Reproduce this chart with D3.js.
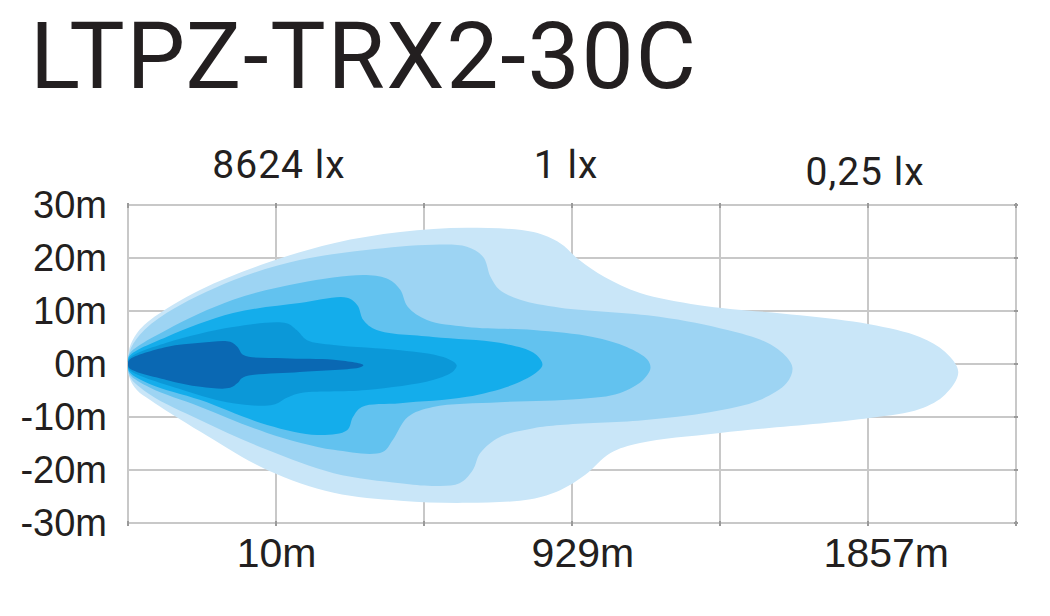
<!DOCTYPE html>
<html>
<head>
<meta charset="utf-8">
<script src="https://cdn.jsdelivr.net/npm/d3@7"></script>
<style>
  html, body { margin: 0; padding: 0; background: #ffffff; }
  svg { display: block; }
</style>
</head>
<body>
<svg id="chart" width="1050" height="616"></svg>
<script>
// ---------- data ----------
const title = "LTPZ-TRX2-30C";
const gridColumns = [0, 1, 2, 3, 4, 5, 6];           // distance grid positions
const lateralTicks = [30, 20, 10, 0, -10, -20, -30];  // metres
const lateralLabels = ["30m", "20m", "10m", "0m", "-10m", "-20m", "-30m"];
const distanceTickPos = [1, 3, 5];
const distanceLabelPos = [1.0, 3.07, 5.12];
const distanceLabels = ["10m", "929m", "1857m"];
const luxLabels = ["8624 lx", "1 lx", "0,25 lx"];
const luxPos = [1.02, 2.96, 4.98];

// isolux contours: [distance grid position, lateral metres]
const contour1 = [[0,0],[0.01,3.0],[0.06,5.8],[0.15,8.3],[0.49,14.0],[0.94,19.1],[1.39,22.8],[1.84,24.9],[2.29,25.7],[2.74,24.9],[2.92,22.8],[3.05,19.6],[3.22,16.4],[3.46,13.4],[3.86,11.1],[4.54,9.2],[5.01,7.5],[5.35,5.1],[5.52,2.3],[5.61,-1.5],[5.52,-5.8],[5.35,-8.5],[5.01,-10.2],[4.0,-13.0],[3.46,-14.9],[3.26,-16.8],[3.09,-20.9],[2.92,-23.8],[2.72,-25.5],[2.29,-26.2],[1.84,-25.8],[1.39,-24.3],[0.94,-20.0],[0.49,-12.8],[0.15,-6.8],[0.06,-4.9],[0.01,-2.6]];
const contour2 = [[0,0],[0.01,2.3],[0.08,5.5],[0.26,9.6],[0.71,15.8],[1.16,19.6],[1.61,21.5],[2.06,22.5],[2.29,22.1],[2.40,20.2],[2.45,16.4],[2.51,14.0],[2.65,12.1],[2.92,10.6],[3.59,8.9],[4.05,6.4],[4.32,4.0],[4.45,1.3],[4.49,-0.8],[4.45,-3.6],[4.27,-6.8],[3.93,-9.1],[3.48,-10.6],[2.92,-11.5],[2.74,-12.1],[2.51,-13.8],[2.38,-16.8],[2.33,-20.0],[2.24,-22.5],[2.06,-23.0],[1.84,-22.5],[1.39,-20.6],[0.94,-16.2],[0.49,-10.6],[0.15,-5.8],[0.01,-2.3]];
const contour3 = [[0,0],[0.01,1.9],[0.26,6.4],[0.71,12.1],[1.16,15.3],[1.61,16.8],[1.76,16.0],[1.84,14.0],[1.89,10.8],[2.02,8.3],[2.29,7.0],[2.74,6.4],[3.14,5.1],[3.37,3.2],[3.51,0.8],[3.53,-0.8],[3.48,-3.0],[3.32,-5.5],[3.05,-6.6],[2.51,-7.2],[2.06,-8.1],[1.89,-10.0],[1.79,-14.3],[1.72,-16.6],[1.39,-16.2],[0.94,-13.0],[0.49,-8.1],[0.15,-4.5],[0.01,-1.9]];
const contour4 = [[0,0],[0.01,1.5],[0.26,5.1],[0.71,9.6],[1.16,11.5],[1.48,12.5],[1.55,11.1],[1.59,8.3],[1.68,6.4],[2.06,5.1],[2.51,4.0],[2.74,2.1],[2.80,0],[2.78,-1.1],[2.63,-3.6],[2.29,-6.2],[1.84,-7.4],[1.58,-8.1],[1.52,-10.0],[1.48,-12.5],[1.28,-13.4],[0.94,-11.5],[0.49,-6.8],[0.15,-3.8],[0.01,-1.5]];
const contour5 = [[0,0],[0.01,1.1],[0.26,4.0],[0.71,7.0],[1.07,7.7],[1.14,6.4],[1.21,4.5],[1.39,3.6],[1.84,2.6],[2.13,1.3],[2.22,-0.2],[2.20,-1.3],[2.06,-3.0],[1.61,-4.9],[1.16,-5.5],[1.07,-6.4],[0.98,-7.7],[0.71,-7.4],[0.37,-4.9],[0.01,-1.1]];
const contour6 = [[0,0],[0.01,0.8],[0.26,3.2],[0.49,4.0],[0.69,4.2],[0.74,3.2],[0.78,1.7],[1.05,1.1],[1.39,0.8],[1.59,-0.2],[1.57,-0.6],[1.16,-1.5],[0.78,-2.5],[0.74,-3.6],[0.69,-4.5],[0.49,-4.3],[0.26,-3.0],[0.01,-0.8]];
const contours = [contour1, contour2, contour3, contour4, contour5, contour6];
const contourColors = ["#c9e6f8", "#9dd4f3", "#62c2ef", "#14adeb", "#0b98d8", "#0a68b3"];

// ---------- drawing ----------
const svg = d3.select("#chart");
const plotLeft = 128, plotRight = 1016, plotTop = 205, plotBottom = 523;
const x = d3.scaleLinear().domain([0, 6]).range([plotLeft, plotRight]);
const y = d3.scaleLinear().domain([-30, 30]).range([plotBottom, plotTop]);

// title
svg.append("text")
  .attr("x", 30).attr("y", 88)
  .attr("font-family", "Roboto, 'Liberation Sans', sans-serif")
  .attr("font-size", 93)
  .attr("fill", "#231f20")
  .attr("textLength", 666)
  .attr("lengthAdjust", "spacing")
  .text(title);

// grid
const grid = svg.append("g").attr("stroke", "#c8c8c8").attr("stroke-width", 2);
grid.selectAll("line.v").data(gridColumns).join("line").attr("class", "v")
  .attr("x1", d => x(d)).attr("x2", d => x(d))
  .attr("y1", plotTop).attr("y2", plotBottom);
grid.selectAll("line.h").data(lateralTicks).join("line").attr("class", "h")
  .attr("x1", plotLeft).attr("x2", plotRight)
  .attr("y1", d => y(d)).attr("y2", d => y(d));

// small tick marks on the frame
const marks = svg.append("g").attr("stroke", "#9a9a9a").attr("stroke-width", 2);
marks.selectAll("line.tb").data(gridColumns).join("line").attr("class", "tb")
  .attr("x1", d => x(d)).attr("x2", d => x(d))
  .attr("y1", plotBottom - 2).attr("y2", plotBottom + 3);
marks.selectAll("line.tt").data(gridColumns).join("line").attr("class", "tt")
  .attr("x1", d => x(d)).attr("x2", d => x(d))
  .attr("y1", plotTop - 2).attr("y2", plotTop + 3);
marks.selectAll("line.tr").data(lateralTicks).join("line").attr("class", "tr")
  .attr("x1", plotRight - 2).attr("x2", plotRight + 2)
  .attr("y1", d => y(d)).attr("y2", d => y(d));

// contours
const line = d3.line()
  .x(d => x(d[0])).y(d => y(d[1]))
  .curve(d3.curveCatmullRomClosed.alpha(0.5));
svg.append("g").selectAll("path").data(contours).join("path")
  .attr("d", line)
  .attr("fill", (d, i) => contourColors[i])
  .attr("stroke", "none");

// left axis labels
const yAxis = d3.axisLeft(y).tickValues(lateralTicks)
  .tickFormat((d, i) => lateralLabels[i]).tickSize(0).tickPadding(21);
const yg = svg.append("g").attr("transform", `translate(${plotLeft},0)`).call(yAxis);
yg.select(".domain").remove();
yg.selectAll("text")
  .attr("font-family", "'Liberation Sans', Arial, sans-serif")
  .attr("font-size", 38).attr("fill", "#231f20").attr("dy", "0.33em");

// bottom axis labels (labels sit slightly right of their grid lines in the original)
const xAxis = d3.axisBottom(x).tickValues(distanceTickPos)
  .tickFormat((d, i) => distanceLabels[i]).tickSize(0).tickPadding(0);
const xg = svg.append("g").attr("transform", `translate(0,${plotBottom})`).call(xAxis);
xg.select(".domain").remove();
xg.selectAll("text")
  .attr("font-family", "'Liberation Sans', Arial, sans-serif")
  .attr("font-size", 41).attr("fill", "#231f20").attr("dy", null).attr("y", 44)
  .attr("x", (d, i) => x(distanceLabelPos[i]) - x(distanceTickPos[i]));

// lux labels
svg.append("g").selectAll("text").data(luxLabels).join("text")
  .attr("x", (d, i) => x(luxPos[i]))
  .attr("y", (d, i) => i === 2 ? 185 : 178)
  .attr("text-anchor", "middle")
  .attr("font-family", "Roboto, 'Liberation Sans', sans-serif")
  .attr("font-size", 39)
  .attr("letter-spacing", 1)
  .attr("fill", "#231f20")
  .text(d => d);
</script>
</body>
</html>
